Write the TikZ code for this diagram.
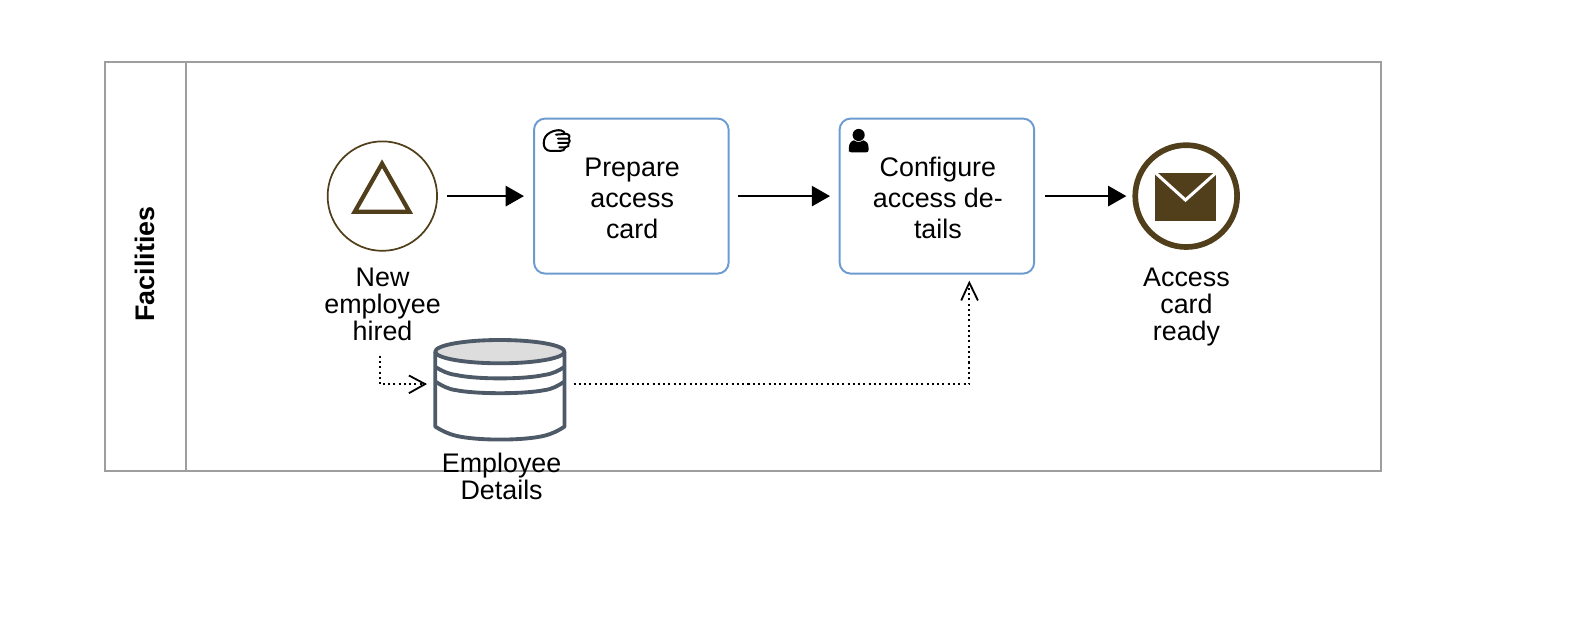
\documentclass[tikz,border=0pt]{standalone}
\usepackage{fontspec}
\setmainfont{Liberation Sans}
\usetikzlibrary{arrows.meta}
\definecolor{brownev}{HTML}{513E1B}
\definecolor{taskblue}{HTML}{6C9BCF}
\definecolor{poolgray}{HTML}{9E9E9E}
\definecolor{storegray}{HTML}{4E5A68}
\definecolor{storetop}{HTML}{DDDDDD}
\tikzset{
  x=1pt,y=-1pt,
  lbl/.style={align=center,inner sep=0pt,font=\fontsize{26.5}{26.5}\selectfont},
  pool/.style={draw=poolgray,line width=2pt},
  taskbox/.style={draw=taskblue,line width=1.9pt,rounded corners=11pt,minimum width=192pt,minimum height=153pt,inner sep=0pt},
  tasktext/.style={align=center,inner sep=0pt,font=\fontsize{26.5}{30.5}\selectfont},
  flow/.style={draw=black,line width=2pt,-{Triangle[length=18pt,width=20pt]}},
  assoc/.style={draw=black,line width=2pt,dash pattern=on 2pt off 3.2pt},
  barb/.style={draw=black,line width=1.8pt},
  storeline/.style={draw=storegray,line width=3.8pt,line join=round},
}
\begin{document}
\begin{tikzpicture}
\useasboundingbox (0,0) rectangle (1568,624.6);
% pool
\node[pool,minimum width=1260pt,minimum height=404pt,inner sep=0pt] (poolbox) at (733.2,263) {};
\coordinate (divtop) at (183.4,61);
\coordinate (divbot) at (183.4,465);
\draw[pool] (divtop) -- (divbot);
\node[inner sep=0pt,rotate=90,font=\fontsize{26.5}{26.5}\selectfont\bfseries] (poolname) at (142.5,260.5) {Facilities};
% start event
\node[circle,draw=brownev,line width=1.7pt,minimum size=108pt,inner sep=0pt] (startev) at (377.3,193.5) {};
\draw[draw=brownev,line width=4.2pt,miter limit=10] (377,161.5) -- (404,209) -- (350,209) -- cycle;
\node[lbl] (startlabel) at (377.5,300.6) {New\\employee\\hired};
% tasks
\node[taskbox] (task1) at (623,193.5) {};
\node[tasktext] (text1) at (623.8,195.5) {Prepare\\access\\card};
\node[taskbox] (task2) at (924.5,193.5) {};
\node[tasktext] (text2) at (925.5,195) {Configure\\access de-\\tails};
% hand icon
\begin{scope}[shift={(305.9,108.5)},x=.329pt,y=-.329pt]
  \draw[black,line width=2pt,line join=round,line cap=round]
    (701,100) .. controls (701,85) and (708,74) .. (720,68)
    .. controls (730,62) and (742,60) .. (752,61)
    .. controls (760,62) and (764,68) .. (764,72)
    -- (770,72) .. controls (780,74) and (780,84) .. (776,86)
    .. controls (781,90) and (780,98) .. (775,100)
    .. controls (778,106) and (774,112) .. (766,112)
    .. controls (764,120) and (758,123) .. (750,123)
    -- (722,123) .. controls (708,123) and (701,112) .. (701,100) -- cycle;
  \draw[black,line width=2pt,line cap=round]
    (764,72) -- (738,74)
    (744,86) -- (776,86)
    (744,99) -- (775,99)
    (748,112) -- (766,112);
\end{scope}
% user icon
\fill[black] (847.3,133.2) circle (6pt);
\fill[black] (837.6,150.3) -- (837.6,146) .. controls (837.6,141) and (840.6,139) .. (842.6,138.4)
  .. controls (845.6,140.6) and (848.6,140.6) .. (852.1,138.4)
  .. controls (854.6,139) and (857.1,141) .. (857.1,146) -- (857.1,148) .. controls (857.1,149.5) and (856.1,150.3) .. (854.6,150.3) -- (840.1,150.3) .. controls (838.6,150.3) and (837.6,149.5) .. (837.6,148) -- cycle;
% end event
\node[circle,draw=brownev,line width=5.6pt,minimum size=100.5pt,inner sep=0pt] (endev) at (1170.5,193.5) {};
\fill[brownev] (1140,170.4) rectangle (1200,217.8);
\draw[white,line width=3pt] (1140,170.4) -- (1169.8,197.4) -- (1200,170.4);
\node[lbl] (endlabel) at (1170.8,303) {Access\\card\\ready};
% data store
\node[minimum width=128pt,minimum height=99pt,inner sep=0pt] (store) at (493.5,384.5) {};
\draw[storeline] (429.5,347) -- (429.5,421) .. controls (436,425) and (442,428) .. (450,430)
  .. controls (470,435) and (517,435) .. (537,430) .. controls (545,428) and (551,425) .. (557,421) -- (557,347);
\draw[storeline] (429.5,362) .. controls (436,366) and (442,369) .. (450,370)
  .. controls (470,374.5) and (517,374.5) .. (537,370) .. controls (545,369) and (551,366) .. (557,362);
\draw[storeline] (429.5,376.5) .. controls (436,380.5) and (442,384) .. (450,385)
  .. controls (470,389) and (517,389) .. (537,385) .. controls (545,384) and (551,380.5) .. (557,376.5);
\draw[storeline,fill=storetop] (493.3,347) ellipse [x radius=63.8,y radius=11.5];
\node[lbl] (storelabel) at (495,470.3) {Employee\\Details};
% sequence flows
\draw[flow,shorten <=9pt,shorten >=9pt] (startev.east) -- (task1.west);
\draw[flow,shorten <=8pt,shorten >=8.5pt] (task1.east) -- (task2.west);
\draw[flow,shorten <=9.5pt,shorten >=6pt] (task2.east) -- (endev.west);
% associations
\coordinate (startout) at (374.5,351);
\coordinate (storein) at (419.5,379);
\coordinate (storeout) at (566,379);
\coordinate (taskin) at (956.5,279);
\draw[assoc] (startout) |- (storein);
\draw[barb] (403.5,370.5) -- (storein) -- (403.5,388);
\draw[assoc] (storeout) -| (taskin);
\draw[barb] (948.5,296.5) -- (taskin) -- (965,296.5);
\end{tikzpicture}
\end{document}
